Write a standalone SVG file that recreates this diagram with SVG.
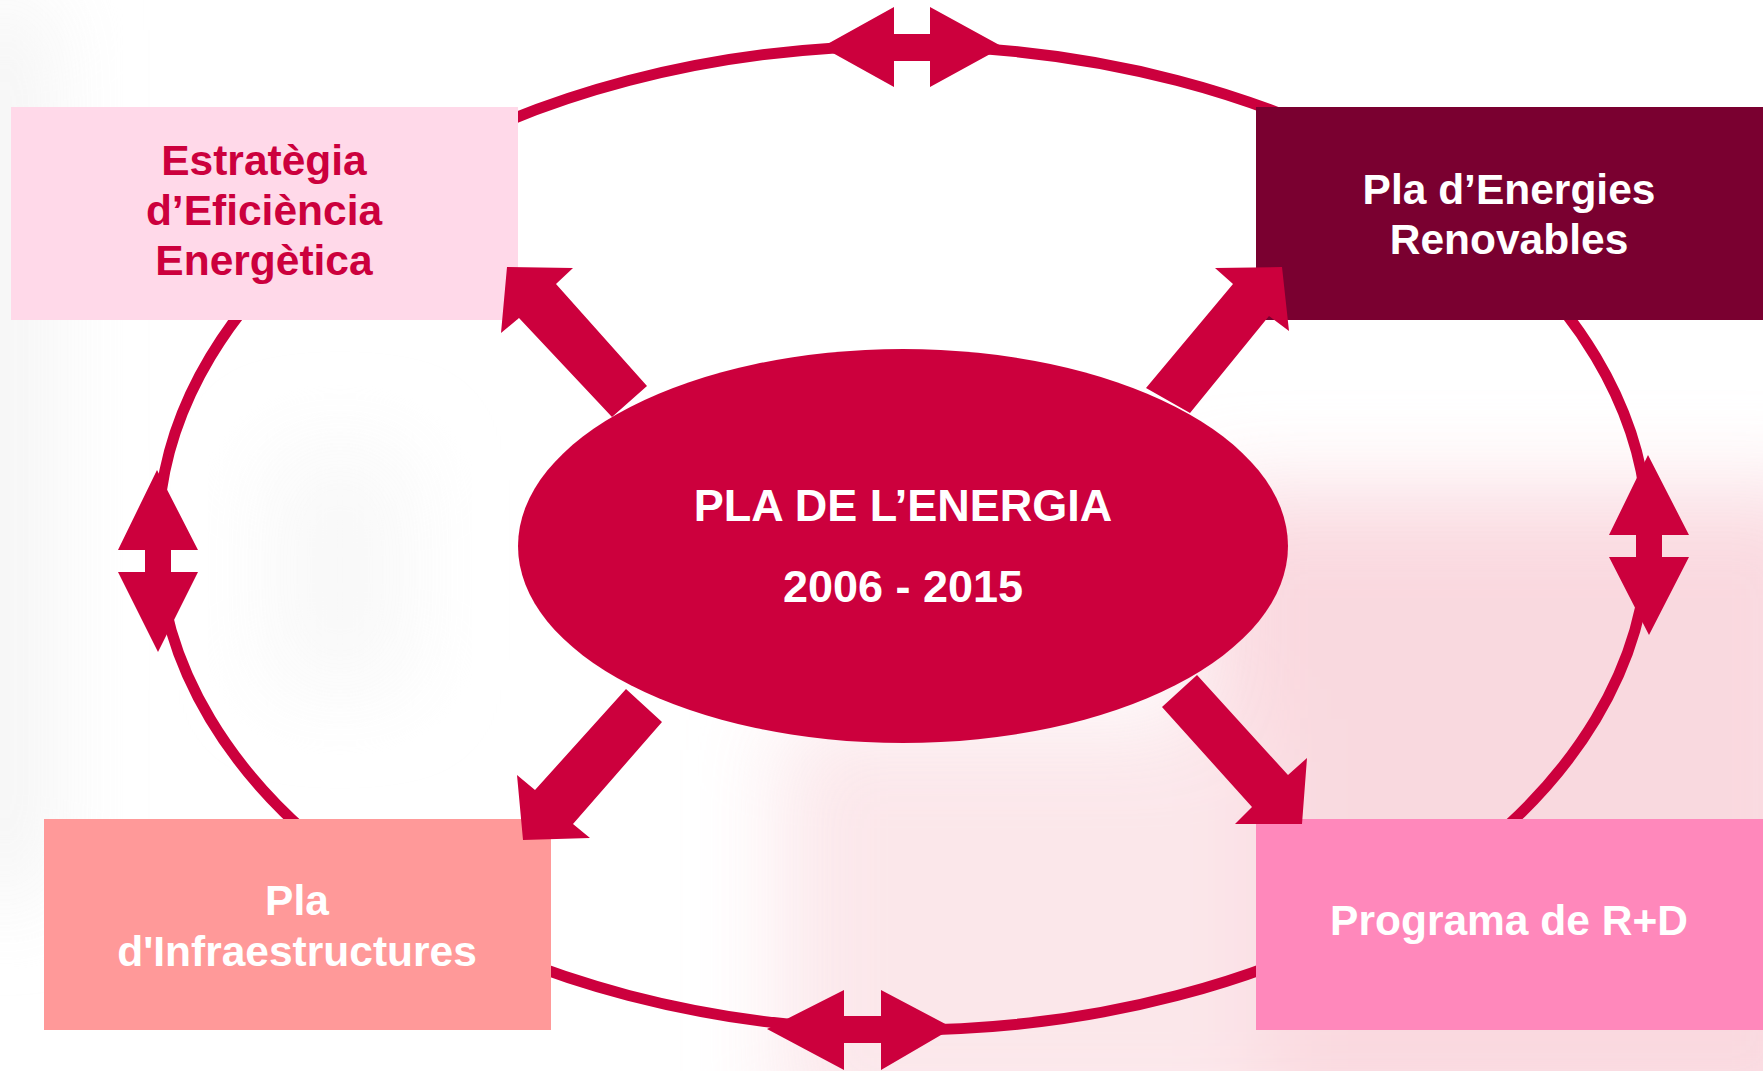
<svg xmlns="http://www.w3.org/2000/svg" width="1763" height="1071" viewBox="0 0 1763 1071">
  <defs>
    <style>
      .ring { fill: none; stroke: #CC003D; stroke-width: 11; }
      .red { fill: #CC003D; }
      .lbl { font-family: "Liberation Sans", Arial, sans-serif; font-weight: bold; font-size: 42.5px; text-anchor: middle; }
      .white { fill: #FFFFFF; }
      .main { font-family: "Liberation Sans", Arial, sans-serif; font-weight: bold; font-size: 45px; text-anchor: middle; fill: #FFFFFF; }
    </style>
    <filter id="blur" x="-30%" y="-30%" width="160%" height="160%">
      <feGaussianBlur stdDeviation="45"/>
    </filter>
  </defs>

  <rect x="0" y="0" width="1763" height="1071" fill="#FFFFFF"/>
  <g id="background" filter="url(#blur)" opacity="0.85">
    <rect x="1200" y="490" width="640" height="650" fill="#F9D3DA"/>
    <rect x="780" y="720" width="480" height="420" fill="#FBE3E7"/>
    <rect x="-40" y="0" width="90" height="900" fill="#F2F2F2"/>
    <rect x="270" y="450" width="140" height="240" fill="#F7F7F7"/>
  </g>

  <g id="connectors">
    <ellipse class="ring" cx="903" cy="538" rx="745" ry="492"/>
  </g>

  <g id="node-eficiencia">
    <rect x="11" y="107" width="507" height="213" fill="#FFD9E9"/>
    <text class="lbl" fill="#CC003D"><tspan x="264" y="175">Estratègia</tspan><tspan x="264" y="225">d’Eficiència</tspan><tspan x="264" y="275">Energètica</tspan></text>
  </g>

  <g id="node-renovables">
    <rect x="1256" y="107" width="507" height="213" fill="#7A0030"/>
    <text class="lbl white"><tspan x="1509" y="204">Pla d’Energies</tspan><tspan x="1509" y="254">Renovables</tspan></text>
  </g>

  <g id="node-infraestructures">
    <rect x="44" y="819" width="507" height="211" fill="#FF9999"/>
    <text class="lbl white"><tspan x="297" y="915">Pla</tspan><tspan x="297" y="966">d'Infraestructures</tspan></text>
  </g>

  <g id="node-rd">
    <rect x="1256" y="819" width="507" height="211" fill="#FF88BB"/>
    <text class="lbl white" x="1509" y="935">Programa de R+D</text>
  </g>

  <g id="double-arrows">
    <polygon class="red" points="822,47 894,7 894,34 930,34 930,7 1003,47 930,87 930,61 894,61 894,87"/>
    <polygon class="red" points="767,1029 844,990 844,1016 881,1016 881,990 953,1028 881,1070 881,1043 844,1043 844,1070"/>
    <polygon class="red" points="157,470 198,550 171,550 171,572 198,572 158,652 118,572 145,572 145,550 118,550"/>
    <polygon class="red" points="1648,455 1689,535 1662,535 1662,557 1689,557 1649,635 1609,557 1636,557 1636,535 1609,535"/>
  </g>

  <g id="block-arrows">
    <polygon class="red" points="507,267 573,268 556,284 647,386 612,417 519,318 501,333"/>
    <polygon class="red" points="1282,267 1289,331 1269,316 1190,413 1146,388 1233,284 1215,268"/>
    <polygon class="red" points="626,689 662,722 573,824 590,838 523,840 517,775 535,790"/>
    <polygon class="red" points="1197,675 1288,775 1307,758 1302,824 1235,824 1252,807 1162,707"/>
  </g>

  <g id="node-pla-energia">
    <ellipse cx="903" cy="546" rx="385" ry="197" fill="#CC003D"/>
    <text class="main" x="903" y="521">PLA DE L’ENERGIA</text>
    <text class="main" x="903" y="602">2006 - 2015</text>
  </g>
</svg>
